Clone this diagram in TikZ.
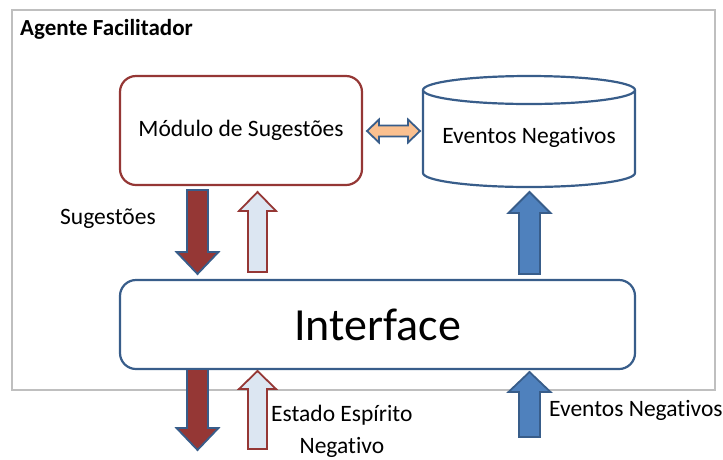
\documentclass[tikz,border=0pt]{standalone}
\usepackage{fontspec}
\setmainfont{Carlito}[Ligatures=CommonOff]
\usetikzlibrary{positioning}

\definecolor{sugred}{HTML}{953735}
\definecolor{boxblue}{HTML}{385D8A}
\definecolor{arrblue}{HTML}{4F81BD}
\definecolor{palblue}{HTML}{DCE6F2}
\definecolor{palorange}{HTML}{FAC090}
\definecolor{framegray}{HTML}{BFBFBF}

% vertical block arrow: style, x, y tail, y tip, half shaft, half head, head length
\newcommand{\blockarrow}[7]{%
  \pgfmathsetmacro{\ybase}{#4+(#3>#4?1:-1)*#7}
  \draw[#1] (#2-#5,#3) -- (#2-#5,\ybase) -- (#2-#6,\ybase) -- (#2,#4)
    -- (#2+#6,\ybase) -- (#2+#5,\ybase) -- (#2+#5,#3) -- cycle;}

\tikzset{
  txt/.style={font=\fontsize{23.5}{28}\selectfont, inner sep=0pt},
  modbox/.style={draw=sugred, line width=2.2pt, rounded corners=16pt, fill=white,
    minimum width=242pt, minimum height=109pt},
  ifbox/.style={draw=boxblue, line width=2.2pt, rounded corners=16pt, fill=white,
    minimum width=515pt, minimum height=89pt},
  cyl/.style={draw=boxblue, line width=2.2pt, fill=white},
  redarr/.style={fill=sugred, draw=boxblue, line width=1.8pt, line join=miter},
  palarr/.style={fill=palblue, draw=sugred, line width=1.8pt, line join=miter},
  bluarr/.style={fill=arrblue, draw=boxblue, line width=1.8pt, line join=miter},
  orgarr/.style={fill=palorange, draw=boxblue, line width=1.8pt, line join=miter}
}

\begin{document}
\begin{tikzpicture}[x=1pt, y=-1pt]
  \useasboundingbox (0,0) rectangle (723,459);
  % frame of the agent
  \draw[framegray, line width=2.4pt] (12,10) rectangle (715,390);
  \node[txt, anchor=west, font=\fontsize{23}{28}\selectfont\bfseries] (agent) at (20,29) {Agente Facilitador};

  % boxes
  \node[modbox, txt] (mod) at (241,130.5) {Módulo de Sugestões};
  \node[ifbox, font=\fontsize{46}{52}\selectfont] (iface) at (377.5,324.5) {Interface};

  % store of negative events
  \draw[cyl] (423,90) -- (423,173) arc[start angle=180, end angle=0, x radius=106, y radius=14] -- (635,90);
  \draw[cyl] (529,90) ellipse [x radius=106, y radius=14];
  \node[txt] (ev) at (529,137) {Eventos Negativos};

  % arrows
  \draw[orgarr] (367,131) -- (379,119.5) -- (379,125.5) -- (408,125.5) -- (408,119.5)
    -- (420,131) -- (408,142.5) -- (408,136.5) -- (379,136.5) -- (379,142.5) -- cycle;
  \blockarrow{redarr}{197.5}{190}{274}{10.5}{21}{22}
  \blockarrow{palarr}{257.5}{272}{192}{9.5}{18.5}{19}
  \blockarrow{bluarr}{529.5}{274}{192}{10.5}{21}{21}
  \blockarrow{redarr}{197.5}{369}{450}{10.5}{21}{22}
  \blockarrow{palarr}{257.5}{449}{371}{9.5}{18.5}{18}
  \blockarrow{bluarr}{529.5}{437}{372}{10.5}{21}{20}

  % labels
  \node[txt, anchor=west] (sug) at (60,219) {Sugestões};
  \node[txt, align=center, anchor=west, font=\fontsize{23.5}{32}\selectfont] (est) at (271,431) {Estado Espírito\\Negativo};
  \node[txt, anchor=west] (evin) at (549,410) {Eventos Negativos};
\end{tikzpicture}
\end{document}
